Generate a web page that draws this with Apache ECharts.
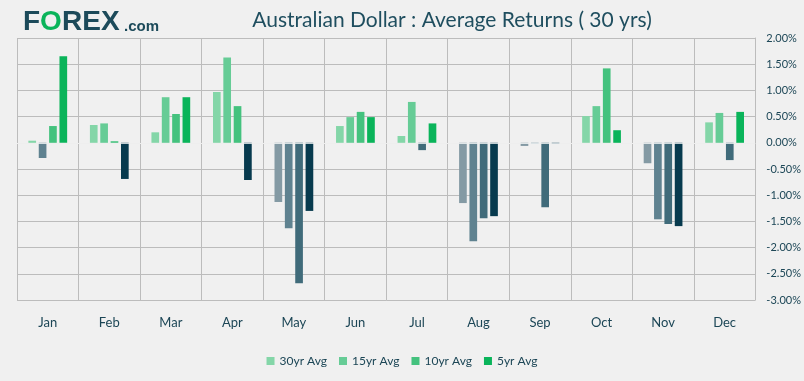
<!DOCTYPE html>
<html>
<head>
<meta charset="utf-8">
<script src="https://cdn.jsdelivr.net/npm/echarts@6/dist/echarts.min.js"></script>
<style>
html,body{margin:0;padding:0;background:#f0f0f0;}
#c{width:804px;height:381px;}
</style>
</head>
<body>
<div id="c"></div>
<script>
var months = ['Jan','Feb','Mar','Apr','May','Jun','Jul','Aug','Sep','Oct','Nov','Dec'];
var seriesNames = ['30yr Avg','15yr Avg','10yr Avg','5yr Avg'];
var avg30 = [0.04, 0.34, 0.20, 0.97, -1.13, 0.32, 0.13, -1.15, -0.06, 0.51, -0.39, 0.39];
var avg15 = [-0.29, 0.37, 0.87, 1.63, -1.63, 0.49, 0.78, -1.88, -0.02, 0.70, -1.46, 0.57];
var avg10 = [0.32, 0.03, 0.55, 0.70, -2.68, 0.59, -0.14, -1.44, -1.23, 1.42, -1.55, -0.33];
var avg5  = [1.65, -0.69, 0.87, -0.71, -1.30, 0.49, 0.37, -1.40, -0.02, 0.24, -1.59, 0.59];
var yTicks = {min: -3, max: 2, interval: 0.5};

var posColors = ['#84d6a8','#66cc96','#44c27e','#0ab45a'];
var negColors = ['#849aa4','#5f8290','#406b7a','#073a4e'];
var allData = [avg30, avg15, avg10, avg5];

var textColor = '#1c4656';
var fontFam = 'Lato, "Open Sans", sans-serif';
var logoFont = '"Liberation Sans", Arial, sans-serif';

var chart = echarts.init(document.getElementById('c'), null, {renderer:'canvas'});

var series = allData.map(function(d, i){
  var s = {
    name: seriesNames[i],
    type: 'bar',
    data: d,
    barGap: '35%',
    barCategoryGap: '37%',
    itemStyle: {
      color: function(p){ return p.value >= 0 ? posColors[i] : negColors[i]; }
    },
    emphasis: {disabled: true}
  };
  if (i === 3) {
    s.markLine = {
      silent: true,
      symbol: ['none','none'],
      label: {show: false},
      lineStyle: {color: 'rgba(255,255,255,0.75)', width: 1, type: 'solid'},
      data: [{yAxis: 0}],
      z: 10
    };
  }
  return s;
});

function logoText(txt, x, y, size, color) {
  return {
    type: 'text', x: x, y: y,
    style: {text: txt, fontFamily: logoFont, fontWeight: 'bold', fontSize: size, fill: color,
            textAlign: 'left', textVerticalAlign: 'middle'}
  };
}

var option = {
  backgroundColor: '#f0f0f0',
  animation: false,
  color: posColors,
  grid: {left: 17, right: 48, top: 38, bottom: 81, containLabel: false},
  legend: {
    data: seriesNames,
    left: 'center',
    top: 350,
    itemWidth: 8,
    itemHeight: 8,
    itemGap: 12,
    icon: 'rect',
    textStyle: {color: textColor, fontSize: 12, fontFamily: fontFam},
    selectedMode: false
  },
  xAxis: {
    type: 'category',
    data: months,
    boundaryGap: true,
    axisLine: {show: false, onZero: false},
    axisTick: {show: false},
    axisLabel: {color: textColor, fontSize: 13, fontFamily: fontFam, margin: 16},
    splitLine: {show: true, interval: 0, lineStyle: {color: '#bcbcbc', width: 1}}
  },
  yAxis: {
    type: 'value',
    position: 'right',
    min: yTicks.min,
    max: yTicks.max,
    interval: yTicks.interval,
    axisLine: {show: true, lineStyle: {color: '#bcbcbc'}},
    axisTick: {show: false},
    axisLabel: {
      color: textColor, fontSize: 11, fontFamily: fontFam, margin: 11,
      formatter: function(v){ return v.toFixed(2) + '%'; }
    },
    splitLine: {show: true, lineStyle: {color: '#bcbcbc', width: 1}}
  },
  graphic: [
    logoText('F', 23, 22.5, 28, '#1c4a5a'),
    logoText('O', 40, 22.5, 28, '#0ab45a'),
    logoText('REX', 62, 22.5, 28, '#1c4a5a'),
    logoText('.com', 124, 27, 15, '#1c4a5a'),
    {
      type: 'text',
      x: 452, y: 20,
      style: {
        text: 'Australian Dollar : Average Returns ( 30 yrs)',
        fontFamily: fontFam,
        fontSize: 21,
        fill: '#1f4e5f',
        textAlign: 'center',
        textVerticalAlign: 'middle',
        shadowColor: 'rgba(0,0,0,0.35)',
        shadowBlur: 2,
        shadowOffsetX: 1,
        shadowOffsetY: 1
      }
    }
  ],
  series: series
};
chart.setOption(option);
</script>
</body>
</html>
